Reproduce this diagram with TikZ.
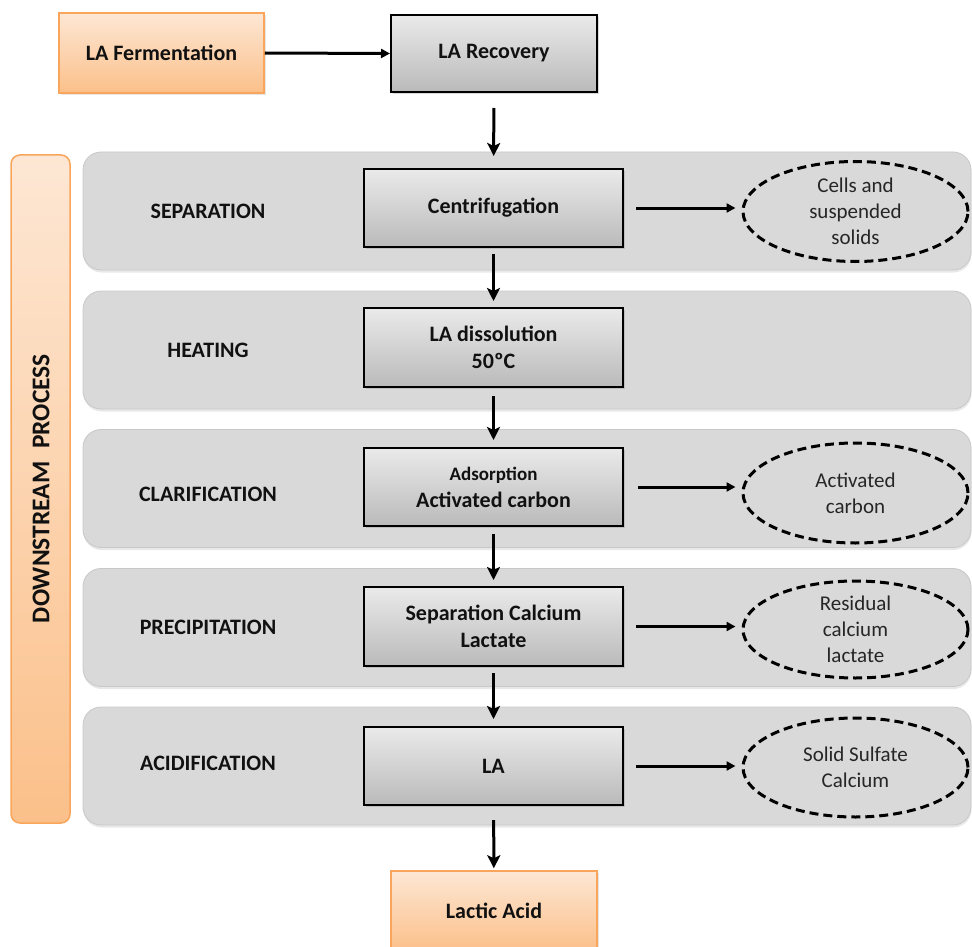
\documentclass[tikz,border=0pt]{standalone}
\usepackage{fontspec}
\setmainfont{Carlito}
\usetikzlibrary{arrows.meta,shapes.geometric,shadows}
\definecolor{panelgray}{HTML}{D9D9D9}
\definecolor{panelline}{HTML}{C8C8C8}
\definecolor{orangeline}{HTML}{F9A55B}
\definecolor{orangetop}{HTML}{FDE7D4}
\definecolor{orangebot}{HTML}{FBC08A}
\definecolor{boxtop}{HTML}{EAEAEA}
\definecolor{boxbot}{HTML}{BABABA}
\definecolor{txt}{HTML}{111111}
\definecolor{softtxt}{HTML}{262626}
\begin{document}
\begin{tikzpicture}[x=1pt,y=-1pt,
  bigfont/.style={font=\bfseries\fontsize{22}{27}\selectfont},
  panel/.style={draw=panelline, line width=0.8pt, fill=panelgray, rounded corners=18pt,
    minimum width=888pt, minimum height=118pt, inner sep=0pt,
    drop shadow={opacity=0.18, shadow xshift=0.5pt, shadow yshift=-2.5pt}},
  stagelabel/.style={bigfont, text=txt, inner sep=0pt},
  procbox/.style={draw=black, line width=2pt, top color=boxtop, bottom color=boxbot,
    minimum width=259pt, minimum height=78pt, inner sep=0pt, align=center, bigfont, text=txt,
    drop shadow={opacity=0.3, shadow xshift=1.5pt, shadow yshift=-2pt}},
  orangebox/.style={draw=orangeline, line width=1.5pt, top color=orangetop, bottom color=orangebot,
    minimum width=205pt, minimum height=80pt, inner sep=0pt, align=center, bigfont, text=txt,
    drop shadow={opacity=0.2, shadow xshift=1.5pt, shadow yshift=-2pt}},
  wastes/.style={ellipse, draw=black, line width=3pt, dash pattern=on 9pt off 5pt,
    minimum width=225pt, minimum height=100pt, inner sep=0pt, align=center,
    font=\fontsize{21}{26}\selectfont, text=softtxt},
  varr/.style={line width=3pt, -{Stealth[length=13pt,width=13pt,inset=3pt]}},
  harr/.style={line width=3pt, -{Triangle[length=9pt,width=9pt]}}
]
\clip (0,0) rectangle (972,947);

% side bar
\node[draw=orangeline, line width=1.5pt, top color=orangetop, bottom color=orangebot,
  rounded corners=9pt, minimum width=59pt, minimum height=668pt, inner sep=0pt] (bar) at (40.5,489) {};
\node[rotate=90, font=\bfseries\fontsize{25.5}{27}\selectfont, text=txt] (bartext) at (41,488.5)
  {DOWNSTREAM\hspace{0.5em}PROCESS};

% panels
\node[panel] (p1) at (527,211) {};
\node[panel] (p2) at (527,350) {};
\node[panel] (p3) at (527,488.5) {};
\node[panel] (p4) at (527,627.5) {};
\node[panel] (p5) at (527,766) {};

% stage labels
\node[stagelabel] (l1) at (208,211) {SEPARATION};
\node[stagelabel] (l2) at (208,350) {HEATING};
\node[stagelabel] (l3) at (208,494) {CLARIFICATION};
\node[stagelabel] (l4) at (208,627) {PRECIPITATION};
\node[stagelabel] (l5) at (208,763) {ACIDIFICATION};

% top boxes
\node[orangebox] (ferm) at (161.5,53) {LA Fermentation};
\node[procbox, minimum width=206pt, minimum height=77pt] (rec) at (494,53.5) {LA Recovery};

% process boxes
\node[procbox] (cen) at (493.5,208) {Centrifugation};
\node[procbox, minimum height=79pt] (dis) at (493.5,347.5) {LA dissolution\\50ºC};
\node[procbox] (ads) at (493.5,487) {{\fontsize{19}{27}\selectfont Adsorption}\\Activated carbon};
\node[procbox, minimum height=79pt] (sep) at (493.5,626.5) {Separation Calcium\\Lactate};
\node[procbox] (la) at (493.5,766) {LA};

\node[orangebox, minimum width=206pt] (lac) at (494,911) {Lactic Acid};

% ellipses
\node[wastes] (e1) at (855.5,211.5) {Cells and\\suspended\\solids};
\node[wastes] (e2) at (855.5,493) {Activated\\carbon};
\node[wastes, minimum height=97pt] (e3) at (855.5,629.5) {Residual\\calcium\\lactate};
\node[wastes, minimum height=99pt] (e4) at (855.5,767.5) {Solid Sulfate\\Calcium};

% connectors
\draw[harr] (ferm.east) -- (rec.west);
\draw[varr, shorten <=15pt, shorten >=12pt] (rec) -- (cen);
\draw[varr, shorten <=6pt, shorten >=6pt] (cen) -- (dis);
\draw[varr, shorten <=8pt, shorten >=7pt] (dis) -- (ads);
\draw[varr, shorten <=7pt, shorten >=6pt] (ads) -- (sep);
\draw[varr, shorten <=6pt, shorten >=7pt] (sep) -- (la);
\draw[varr, shorten <=14pt, shorten >=2pt] (la) -- (lac);

\draw[harr, shorten <=12pt, shorten >=6pt] (cen.east) -- (cen.east -| e1.west);
\draw[harr, shorten <=14pt, shorten >=6pt] (ads.east) -- (ads.east -| e2.west);
\draw[harr, shorten <=12pt, shorten >=6pt] (sep.east) -- (sep.east -| e3.west);
\draw[harr, shorten <=12pt, shorten >=6pt] (la.east) -- (la.east -| e4.west);
\end{tikzpicture}
\end{document}
